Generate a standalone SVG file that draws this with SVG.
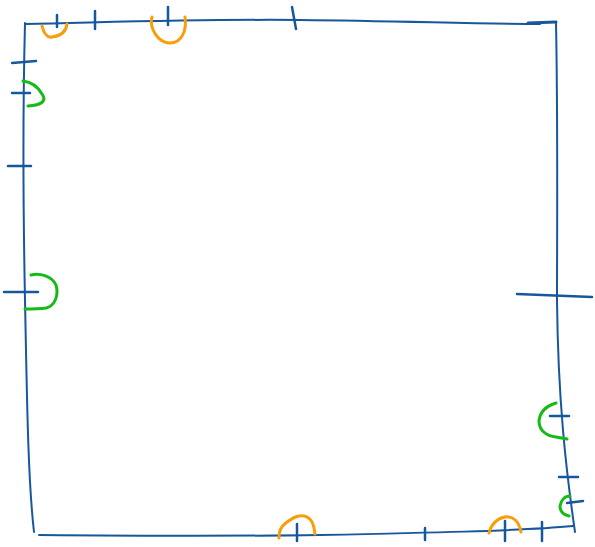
<svg xmlns="http://www.w3.org/2000/svg" width="595" height="547" viewBox="0 0 595 547">
<style>
.b{fill:none;stroke:#17579c;stroke-width:2;stroke-linecap:round;stroke-linejoin:round}
.t{fill:none;stroke:#17579c;stroke-width:2.5;stroke-linecap:round}
.o{fill:none;stroke:#f79e0b;stroke-width:3;stroke-linecap:round;stroke-linejoin:round}
.g{fill:none;stroke:#15bb15;stroke-width:3;stroke-linecap:round;stroke-linejoin:round}
</style>
<rect width="595" height="547" fill="#ffffff"/>
<g id="frame">
<path class="b" d="M25,24 C120,22 200,19 300,20 C400,21 480,24 540,24"/>
<path class="b" d="M528,23 L556,22" style="stroke-width:3"/>
<path class="b" d="M556,23 C558,120 557,250 557,300 C558,400 566,470 575,532"/>
<path class="b" d="M25,23 C23,100 23,200 25,300 C27,400 28,480 34,532"/>
<path class="b" d="M39,535 C150,536 250,536 320,535 C420,533 520,531 573,526"/>
</g>
<g id="ticks">
<path class="t" d="M57,15 L57,27"/>
<path class="t" d="M95,11 L95,29"/>
<path class="t" d="M168,7 L168,25"/>
<path class="t" d="M292,7 L296,29"/>
<path class="t" d="M12,63 L36,61"/>
<path class="t" d="M12,93 L30,93"/>
<path class="t" d="M8,166 L31,166"/>
<path class="t" d="M4,292 L38,292"/>
<path class="t" d="M517,294 L592,297"/>
<path class="t" d="M550,416 L569,416"/>
<path class="t" d="M559,477 L578,477"/>
<path class="t" d="M567,503 L583,501"/>
<path class="t" d="M297,524 L297,541"/>
<path class="t" d="M425,528 L425,540"/>
<path class="t" d="M505,521 L505,541"/>
<path class="t" d="M542,522 L542,541"/>
</g>
<g id="orange-arcs">
<path class="o" d="M42,26 C44,34 47,38 52,37 C60,36 66,33 67,24"/>
<path class="o" d="M152,17 C149,28 158,43 170,43 C182,43 187,30 185,17"/>
<path class="o" d="M279,538 C279,532 280,527 287,522 C294,517 300,514 307,517 C313,520 314,527 315,534"/>
<path class="o" d="M489,533 C491,525 495,519 505,517 C513,516 519,521 521,532"/>
</g>
<g id="green-arcs">
<path class="g" d="M23,81 C31,82 38,87 42,94 C47,101 42,105 28,106"/>
<path class="g" d="M31,275 C40,273 52,276 56,285 C59,295 55,306 46,308 C38,309 30,309 25,309"/>
<path class="g" d="M556,403 C546,406 540,411 539,421 C539,430 546,436 556,437 L567,439"/>
<path class="g" d="M570,496 C565,496 561,500 560,506 C560,512 564,515 569,516"/>
</g>
</svg>
